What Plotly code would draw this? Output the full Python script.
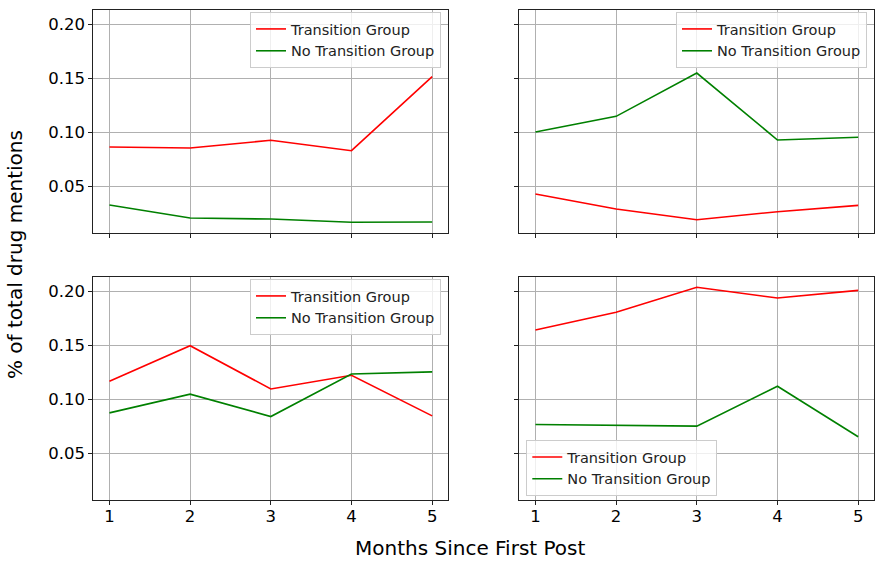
import plotly.graph_objects as go
from plotly.subplots import make_subplots

months = [1, 2, 3, 4, 5]
series_names = ["Transition Group", "No Transition Group"]
colors = ["red", "green"]

# panel order: top-left, top-right, bottom-left, bottom-right
transition = [
    [0.0864, 0.0855, 0.0926, 0.0830, 0.1515],
    [0.0429, 0.0290, 0.0191, 0.0265, 0.0324],
    [0.1167, 0.1496, 0.1095, 0.1222, 0.0845],
    [0.1642, 0.1806, 0.2037, 0.1938, 0.2009],
]
no_transition = [
    [0.0327, 0.0207, 0.0197, 0.0167, 0.0170],
    [0.1003, 0.1148, 0.1549, 0.0929, 0.0954],
    [0.0873, 0.1046, 0.0839, 0.1234, 0.1253],
    [0.0765, 0.0756, 0.0750, 0.1120, 0.0651],
]
y_ticks = [0.05, 0.10, 0.15, 0.20]
y_tick_labels = ["0.05", "0.10", "0.15", "0.20"]
x_title = "Months Since First Post"
y_title = "% of total drug mentions"

W, H = 884, 566
FONT = "DejaVu Sans"

fig = make_subplots(rows=2, cols=2, shared_xaxes=True, shared_yaxes=True)

legend_names = ["legend", "legend2", "legend3", "legend4"]
positions = [(1, 1), (1, 2), (2, 1), (2, 2)]
for i, (r, c) in enumerate(positions):
    for name, col, vals in zip(series_names, colors, [transition[i], no_transition[i]]):
        fig.add_trace(go.Scatter(x=months, y=vals, mode="lines", name=name,
                                 line=dict(color=col, width=1.6),
                                 legend=legend_names[i], showlegend=True),
                      row=r, col=c)

xdom = [(93.3 / W, 448.3 / W), (519.3 / W, 874.3 / W)]
ydom = [(1 - 233.3 / H, 1 - 10.3 / H), (1 - 500 / H, 1 - 277.3 / H)]

axis_common = dict(showline=True, linecolor="#222", linewidth=1, mirror=True,
                   showgrid=True, gridcolor="#b0b0b0", gridwidth=0.8,
                   ticks="outside", ticklen=4, tickcolor="#222",
                   tickfont=dict(family=FONT, size=16.5, color="black"), zeroline=False)

for i, (r, c) in enumerate(positions):
    fig.update_xaxes(domain=list(xdom[c - 1]), range=[0.8, 5.2], tickvals=months,
                     ticktext=[str(m) for m in months], showticklabels=(r == 2),
                     ticklabelstandoff=-3,
                     row=r, col=c, **axis_common)
    fig.update_yaxes(domain=list(ydom[r - 1]), range=[0.0065, 0.213], tickvals=y_ticks,
                     ticktext=y_tick_labels, showticklabels=(c == 1),
                     row=r, col=c, **axis_common)

leg_common = dict(bgcolor="rgba(255,255,255,0.8)", bordercolor="#cccccc", borderwidth=1,
                  font=dict(family=FONT, size=14.5, color="#222"), tracegroupgap=0,
                  itemwidth=30)
fig.update_layout(
    legend=dict(x=441 / W, y=1 - 12 / H, xanchor="right", yanchor="top", **leg_common),
    legend2=dict(x=867 / W, y=1 - 12 / H, xanchor="right", yanchor="top", **leg_common),
    legend3=dict(x=441 / W, y=1 - 279 / H, xanchor="right", yanchor="top", **leg_common),
    legend4=dict(x=526.3 / W, y=1 - 496 / H, xanchor="left", yanchor="bottom", **leg_common),
)

fig.add_annotation(text=x_title, x=470 / W, y=1 - 548 / H, xref="paper", yref="paper",
                   showarrow=False, font=dict(family=FONT, size=20, color="black"),
                   xanchor="center", yanchor="middle")
fig.add_annotation(text=y_title, x=15 / W, y=1 - 255 / H, xref="paper", yref="paper",
                   showarrow=False, textangle=-90, font=dict(family=FONT, size=20, color="black"),
                   xanchor="center", yanchor="middle")

fig.update_layout(width=W, height=H, margin=dict(l=0, r=0, t=0, b=0),
                  paper_bgcolor="white", plot_bgcolor="white",
                  font=dict(family=FONT))

fig.write_html("out.html")
